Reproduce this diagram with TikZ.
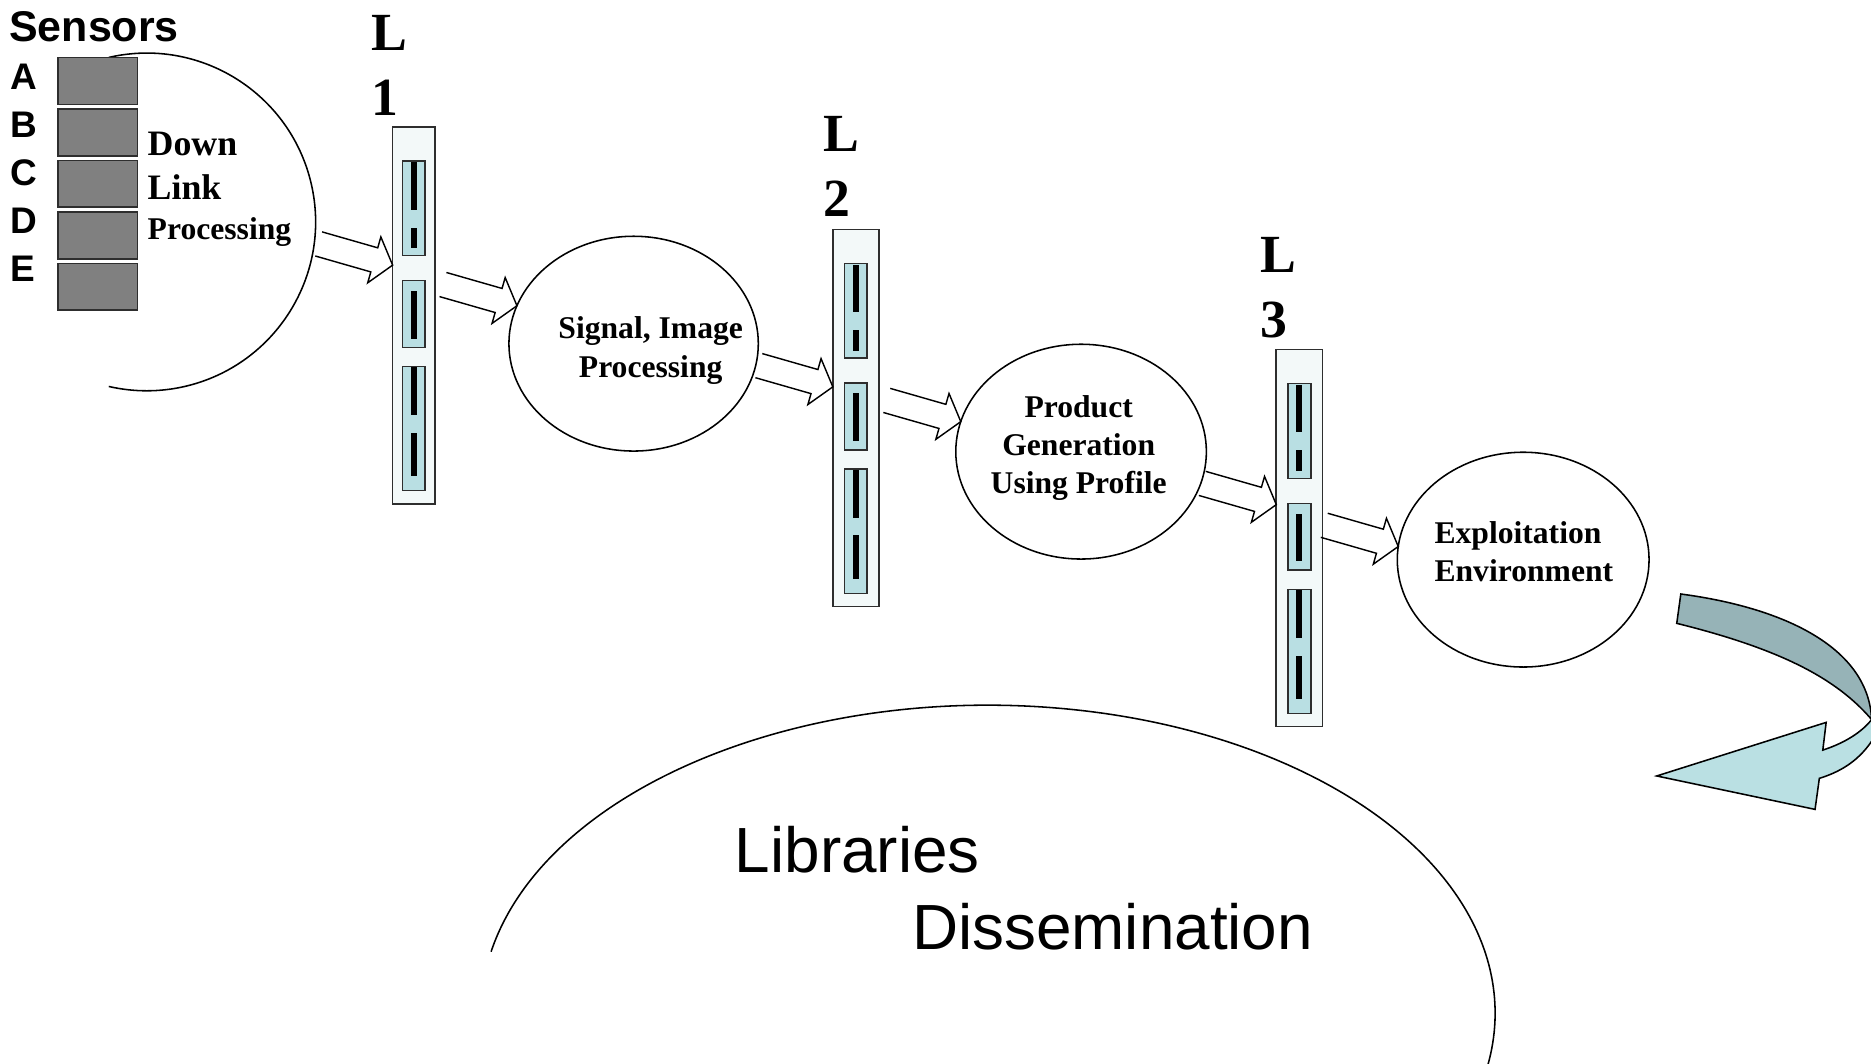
\documentclass[tikz,border=0pt]{standalone}
\usepackage{fontspec}
\setmainfont{Liberation Serif}
\setsansfont{Liberation Sans}
\usetikzlibrary{calc,shapes.geometric}
\definecolor{barfill}{HTML}{F3F9F9}
\definecolor{slotfill}{HTML}{B9DFE3}
\definecolor{sensgray}{HTML}{808080}
\definecolor{edgegray}{HTML}{2E2E2E}
\definecolor{ribbondark}{HTML}{96B3B7}
\definecolor{ribbonlight}{HTML}{BAE0E3}
\begin{document}
\begin{tikzpicture}[x=1pt,y=-1pt,line join=miter]
\tikzset{outl/.style={draw=black,line width=1.3pt},
procell/.style={ellipse,draw,line width=1.3pt,inner sep=0pt,outer sep=0pt},
lvlbox/.style={draw=edgegray,fill=barfill,line width=1.4pt,minimum height=316pt,inner sep=0pt,outer sep=0pt,anchor=north},
slotbox/.style={draw=edgegray,fill=slotfill,line width=1.3pt},
sensbox/.style={draw=edgegray,fill=sensgray,line width=1.3pt,minimum width=66.4pt,minimum height=39.3pt,inner sep=0pt,outer sep=0pt,anchor=north west},
sensfont/.style={font=\fontsize{31}{36}\selectfont\sffamily\bfseries,inner sep=0pt,anchor=base west},
boldtxt/.style={font=\fontsize{26.5}{32}\selectfont\bfseries,inner sep=0pt,align=center},
lvltxt/.style={font=\fontsize{45}{54.5}\selectfont\bfseries,inner sep=0pt,align=left,anchor=north west},
bigsans/.style={font=\fontsize{53.5}{60}\selectfont\sffamily,inner sep=0pt,anchor=base west},
harrow/.pic={\draw[line width=1.2pt] (-64.5,-10.5) -- (-16,-10.5) -- (-16,-20) -- (0,0) -- (-16,20) -- (-16,10.5) -- (-64.5,10.5);}
}
\useasboundingbox (0,0) rectangle (1568,891);
\clip (0,0) rectangle (1568,891);
% sensors and down link
\coordinate (dlp) at (123,186);
\draw[outl] (dlp) ++(-103:141.5) arc[start angle=-103,end angle=103,radius=141.5];
\node[font=\fontsize{36}{40}\selectfont\sffamily\bfseries,inner sep=0pt,anchor=base west] (sens) at (7.6,34.5) {Sensors};
\foreach \l [count=\i from 0] in {A,B,C,D,E}{
\node[sensfont] (lab\l) at (9,{75.4+40.2*\i}) {\l};
\node[sensbox] (box\l) at (48.8,{48.1+43.15*\i}) {};
}
\node[font=\fontsize{30}{36}\selectfont\bfseries,inner sep=0pt,anchor=base west] (dldown) at (123.6,129.9) {Down};
\node[font=\fontsize{30}{36}\selectfont\bfseries,inner sep=0pt,anchor=base west] (dllink) at (123.6,167.6) {Link};
\node[font=\fontsize{26.5}{32}\selectfont\bfseries,inner sep=0pt,anchor=base west] (dlproc) at (123.6,201.1) {Processing};
% level bars
\foreach \n/\x/\y/\w in {L1/346.8/106.2/35.5,L2/717.2/192.2/38.5,L3/1089/292.9/38.8}{
\node[lvlbox,minimum width=\w pt] (\n) at (\x,\y) {};
\foreach \a/\b in {28.5/108,129/185,201/305}
\draw[slotbox] ($(\n.north)+(-9.5,\a)$) rectangle ($(\n.north)+(9.5,\b)$);
\foreach \a/\b in {29.5/69.5,84.5/102,137.5/177.5,201.5/241.5,256.5/293}
\fill ($(\n.north)+(-2.5,\a)$) rectangle ($(\n.north)+(2.5,\b)$);
}
\node[lvltxt] (L1lab) at (311,13) {L\\1};
\node[lvltxt] (L2lab) at (690,97) {L\\2};
\node[lvltxt] (L3lab) at (1056,199) {L\\3};
% processing steps
\node[procell,minimum width=209pt,minimum height=180pt] (sip) at (531,288) {};
\node[procell,minimum width=210pt,minimum height=180pt] (pge) at (906,378.5) {};
\node[procell,minimum width=211pt,minimum height=180pt] (eev) at (1276.5,469) {};
\node[boldtxt,anchor=north] (siptxt) at (545.3,265.4) {Signal, Image\\Processing};
\node[boldtxt,anchor=north] (pgetxt) at (904,331.1) {Product\\Generation\\Using Profile};
\node[boldtxt,anchor=north west,align=left] (eevtxt) at (1202,437) {Exploitation\\Environment};
% hollow arrows
\pic[rotate=-16] at ($(L1.west)+(0,-42)$) {harrow};
\pic[rotate=-16] at (sip.162) {harrow};
\pic[rotate=-16] at ($(L2.west)+(0,-26)$) {harrow};
\pic[rotate=-16] at (pge.166) {harrow};
\pic[rotate=-16] at ($(L3.west)+(0,-28)$) {harrow};
\pic[rotate=-16] at (eev.174) {harrow};
% curved arrow
\draw[outl,fill=ribbonlight] (1568.5,603) .. controls (1560,614) and (1545,623) .. (1527.6,628.6) -- (1530.4,605.4) -- (1388.4,650.3) -- (1521.1,678.3) -- (1524.7,652.3) .. controls (1545,646) and (1562,635) .. (1574,612) -- cycle;
\draw[outl,fill=ribbondark] (1408.6,497.8) .. controls (1500,510) and (1566,545) .. (1568.5,603) .. controls (1539.3,568.8) and (1492.5,544) .. (1405.2,522.4) -- cycle;
% libraries
\coordinate (libc) at (828,849);
\draw[outl] (libc) ++(191.5:425 and 258) arc[start angle=191.5,end angle=375,x radius=425,y radius=258];
\node[bigsans] (libtxt) at (615.7,731.4) {Libraries};
\node[bigsans] (distxt) at (764.2,795.6) {Dissemination};
\end{tikzpicture}
\end{document}
